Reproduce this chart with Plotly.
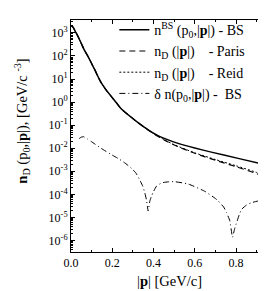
import plotly.graph_objects as go

# ---- data ----
p_bs = [0, 0.01, 0.02, 0.035, 0.05, 0.065, 0.083, 0.1, 0.115, 0.13, 0.147, 0.17,
        0.194, 0.22, 0.243, 0.277, 0.325, 0.374, 0.437, 0.519, 0.6, 0.68, 0.81, 0.95]
log_bs = [3.32, 3.25, 3.08, 2.83, 2.54, 2.25, 1.97, 1.67, 1.41, 1.12, 0.83, 0.53,
          0.26, -0.03, -0.29, -0.55, -0.89, -1.2, -1.52, -1.79, -1.99, -2.17, -2.44, -2.73]

p_paris = [0, 0.01, 0.02, 0.035, 0.05, 0.065, 0.083, 0.1, 0.115, 0.13, 0.147, 0.17,
           0.194, 0.22, 0.243, 0.277, 0.325, 0.374, 0.4, 0.45, 0.5, 0.6, 0.7, 0.8, 0.9, 0.95]
log_paris = [3.32, 3.25, 3.08, 2.83, 2.54, 2.25, 1.97, 1.67, 1.41, 1.12, 0.83, 0.53,
             0.26, -0.03, -0.29, -0.55, -0.89, -1.21, -1.37, -1.63, -1.86, -2.22, -2.52, -2.8, -3.1, -3.27]

p_reid = p_paris
log_reid = [3.32, 3.25, 3.08, 2.83, 2.54, 2.25, 1.97, 1.67, 1.41, 1.12, 0.83, 0.53,
            0.26, -0.03, -0.29, -0.55, -0.89, -1.21, -1.36, -1.62, -1.85, -2.2, -2.49, -2.76, -3.05, -3.22]

p_dn = [0.04, 0.05, 0.06, 0.08, 0.1, 0.147, 0.2, 0.228, 0.26, 0.293, 0.315, 0.333, 0.348,
        0.358, 0.366, 0.374, 0.382, 0.39, 0.40, 0.414, 0.44, 0.47, 0.5, 0.568, 0.649, 0.7,
        0.714, 0.74, 0.754, 0.77, 0.783, 0.793, 0.803, 0.815, 0.827, 0.85, 0.875, 0.94, 0.95]
log_dn = [-1.58, -1.52, -1.5, -1.6, -1.72, -2.01, -2.3, -2.44, -2.63, -2.87, -3.08, -3.37, -3.65,
          -3.94, -4.25, -4.72, -4.3, -4.08, -3.88, -3.65, -3.5, -3.46, -3.45, -3.55, -3.87, -4.18,
          -4.29, -4.55, -4.79, -5.15, -5.86, -5.5, -5.22, -4.9, -4.65, -4.47, -4.36, -4.22, -4.2]

y_tickvals = [1e-6, 1e-5, 1e-4, 1e-3, 1e-2, 1e-1, 1e0, 1e1, 1e2, 1e3]
y_ticktext = ["10<sup>-6</sup>", "10<sup>-5</sup>", "10<sup>-4</sup>", "10<sup>-3</sup>",
              "10<sup>-2</sup>", "10<sup>-1</sup>", "10<sup>0</sup>", "10<sup>1</sup>",
              "10<sup>2</sup>", "10<sup>3</sup>"]
x_tickvals = [0.0, 0.2, 0.4, 0.6, 0.8]
x_ticktext = ["0.0", "0.2", "0.4", "0.6", "0.8"]

names = ["n<sup>BS</sup> (p<sub>0</sub>,|<b>p</b>|) - BS",
         "n<sub>D</sub> (|<b>p</b>|)    - Paris",
         "n<sub>D</sub> (|<b>p</b>|)    - Reid",
         "δ n(p<sub>0</sub>,|<b>p</b>|) -  BS"]
y_title = "<b>n</b><sub>D</sub> (p<sub>0</sub>,|<b>p</b>|), [GeV/c <sup>-3</sup>]"
x_title = "|<b>p</b>| [GeV/c]"

def tolin(v):
    return [10 ** x for x in v]

fig = go.Figure()
fig.add_trace(go.Scatter(x=p_bs, y=tolin(log_bs), mode="lines", name=names[0],
                         line=dict(color="black", width=1.5, shape="spline", smoothing=0.6)))
fig.add_trace(go.Scatter(x=p_paris, y=tolin(log_paris), mode="lines", name=names[1],
                         line=dict(color="black", width=1.2, dash="6px,4px", shape="spline", smoothing=0.6)))
fig.add_trace(go.Scatter(x=p_reid, y=tolin(log_reid), mode="lines", name=names[2],
                         line=dict(color="black", width=1.0, dash="2px,2px", shape="spline", smoothing=0.6)))
fig.add_trace(go.Scatter(x=p_dn, y=tolin(log_dn), mode="lines", name=names[3],
                         line=dict(color="black", width=1.0, dash="6px,3px,1px,3px", shape="spline", smoothing=0.4)))

SERIF = "Liberation Serif"
tickfont = dict(family=SERIF, size=12, color="black")
titlefont = dict(family=SERIF, size=14.5, color="black")

fig.add_annotation(text=y_title, xref="paper", yref="paper", x=-0.25, y=0.565,
                   xanchor="center", yanchor="middle", textangle=-90, showarrow=False,
                   font=titlefont)

fig.update_layout(
    width=266, height=291,
    margin=dict(l=63, r=6, t=8, b=47),
    paper_bgcolor="white", plot_bgcolor="white",
    font=dict(family=SERIF, size=13, color="black"),
    showlegend=True,
    legend=dict(x=0.22, y=1.025, xanchor="left", yanchor="top",
                bgcolor="rgba(0,0,0,0)", font=dict(family=SERIF, size=14, color="black"),
                tracegroupgap=0, itemwidth=30),
    xaxis=dict(range=[0, 0.955], tickmode="array", tickvals=x_tickvals, ticktext=x_ticktext,
               tickfont=tickfont,
               ticks="inside", ticklen=4, tickcolor="black", showline=True, linecolor="black",
               linewidth=1, mirror="allticks", showgrid=False, zeroline=False,
               minor=dict(tickmode="linear", tick0=0, dtick=0.1, ticks="inside", ticklen=2, tickcolor="black"),
               title=dict(text=x_title, font=titlefont, standoff=6)),
    yaxis=dict(type="log", range=[-6.5, 3.56], tickmode="array", tickvals=y_tickvals, ticktext=y_ticktext,
               tickfont=tickfont,
               ticks="inside", ticklen=4, tickcolor="black", showline=True, linecolor="black",
               linewidth=1, mirror="allticks", showgrid=False, zeroline=False,
               minor=dict(dtick="D1", ticks="inside", ticklen=2, tickcolor="black")),
)

fig.write_html("out.html")
